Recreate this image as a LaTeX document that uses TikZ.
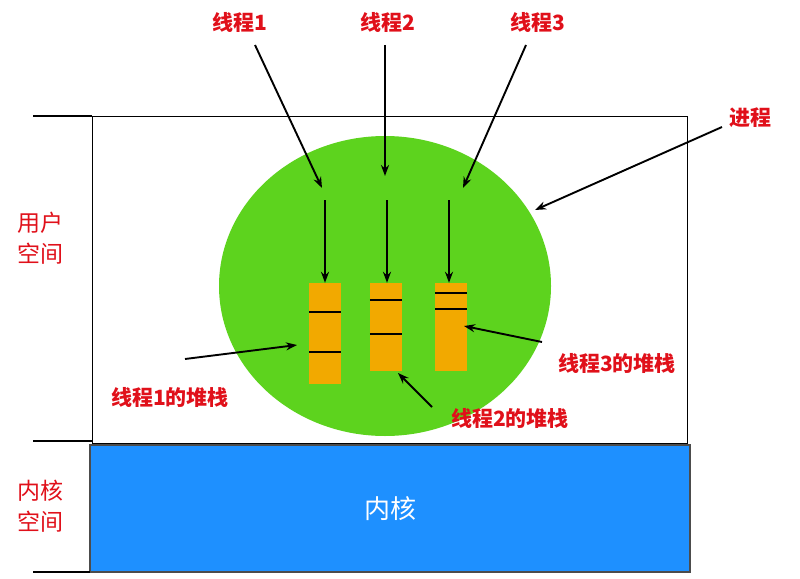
\documentclass[tikz,border=0pt]{standalone}
\usepackage{fontspec}
\usetikzlibrary{shapes.geometric,arrows.meta}
\newfontfamily\cjk{Noto Sans CJK SC}
\definecolor{lred}{HTML}{E0101A}
\definecolor{pgreen}{HTML}{5DD31E}
\definecolor{korange}{HTML}{F2A900}
\definecolor{kblue}{HTML}{1E90FF}
\begin{document}
\begin{tikzpicture}[x=1pt,y=-1pt,
  lbl/.style={text=lred,font=\cjk\bfseries\fontsize{21}{24}\selectfont,inner sep=1pt},
  side/.style={text=lred,font=\cjk\fontsize{23}{31}\selectfont,align=center,inner sep=0pt},
  arr/.style={-{Stealth[length=11pt,width=8pt]},line width=1.9pt},
  stack/.style={fill=korange,draw=none}]
\useasboundingbox (0,0) rectangle (800,578);
\node[draw=black,line width=1pt,minimum width=595pt,minimum height=327pt,inner sep=0pt] (user) at (389.5,279.5) {};
\node[draw=black!70,fill=kblue,line width=1.2pt,minimum width=600pt,minimum height=127pt,inner sep=0pt,text=white,font=\cjk\fontsize{26}{30}\selectfont] (kern) at (390,508.5) {内核};
\draw[line width=2pt] (33,116) -- (92,116);
\draw[line width=2pt] (33,441) -- (92,441);
\draw[line width=2pt] (33,572) -- (90,572);
\node[side] (us) at (40,238) {用户\\空间};
\node[side] (ks) at (40,506) {内核\\空间};
\node[ellipse,fill=pgreen,minimum width=332pt,minimum height=300pt,inner sep=0pt] (proc) at (385,286) {};
\node[stack,minimum width=32pt,minimum height=101pt] (s1) at (325,333.5) {};
\node[stack,minimum width=32pt,minimum height=88pt] (s2) at (386,327) {};
\node[stack,minimum width=32pt,minimum height=88pt] (s3) at (451,327) {};
\draw[line width=2pt] (s1.west|-0,312) -- (s1.east|-0,312);
\draw[line width=2pt] (s1.west|-0,352) -- (s1.east|-0,352);
\draw[line width=2pt] (s2.west|-0,300) -- (s2.east|-0,300);
\draw[line width=2pt] (s2.west|-0,334) -- (s2.east|-0,334);
\draw[line width=2pt] (s3.west|-0,293) -- (s3.east|-0,293);
\draw[line width=2pt] (s3.west|-0,309) -- (s3.east|-0,309);
\node[lbl] (t1) at (240,22) {线程1};
\node[lbl] (t2) at (388,22) {线程2};
\node[lbl] (t3) at (538,22) {线程3};
\coordinate (e1) at (322,188); \coordinate (e2) at (385,176); \coordinate (e3) at (463,188);
\draw[arr] (255,45) -- (e1);
\draw[arr] (385,45) -- (e2);
\draw[arr] (526,45) -- (e3);
\coordinate (b1) at (325,200); \coordinate (b2) at (387,200); \coordinate (b3) at (449,200);
\draw[arr] (b1) -- (b1|-s1.north);
\draw[arr] (b2) -- (b2|-s2.north);
\draw[arr] (b3) -- (b3|-s3.north);
\node[lbl] (pl) at (750,118) {进程};
\coordinate (pe) at (535,210);
\draw[arr] (722,127) -- (pe);
\node[lbl] (l1) at (170,397) {线程1的堆栈};
\node[lbl] (l2) at (510,418) {线程2的堆栈};
\node[lbl] (l3) at (617,363) {线程3的堆栈};
\coordinate (a1) at (297,345); \coordinate (a2) at (398,373); \coordinate (a3) at (464,326);
\draw[arr] (185,359) -- (a1);
\draw[arr] (432,407) -- (a2);
\draw[arr] (542,342) -- (a3);
\end{tikzpicture}
\end{document}
